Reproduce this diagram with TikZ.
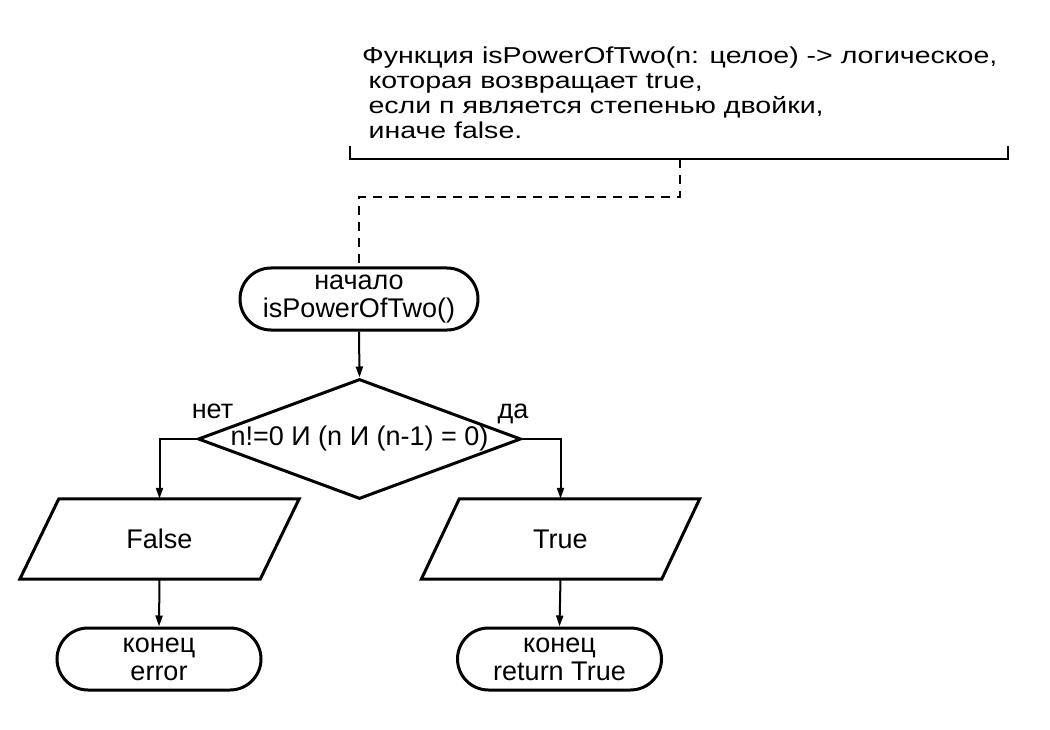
\documentclass[tikz,border=0pt]{standalone}
\usepackage{fontspec}
\setmainfont{Liberation Sans}
\newfontfamily\notefont[FakeStretch=1.24]{Liberation Sans}
\usetikzlibrary{arrows.meta,calc,shapes.geometric}
\begin{document}
\begin{tikzpicture}[x=1pt,y=-1pt,
  every node/.style={font=\fontsize{27}{28}\selectfont},
  term/.style={draw,line width=3pt,rounded corners=31pt,minimum height=62pt,align=center,inner sep=0pt},
  decide/.style={draw,line width=3pt,shape=diamond,aspect=2.7,minimum width=323pt,minimum height=120pt,inner sep=0pt},
  io/.style={minimum width=240pt,minimum height=80pt,inner sep=0pt},
  iofr/.style={line width=3pt,line join=miter},
  flow/.style={line width=2pt,-{Triangle[length=11pt,width=7pt]}},
  lbl/.style={anchor=base,inner sep=0pt},
  note/.style={font=\notefont\fontsize{23}{25}\selectfont,align=left,anchor=north west,inner sep=0pt},
  link/.style={line width=2pt,dash pattern=on 9pt off 7pt}
]
\useasboundingbox (0,0) rectangle (1050,730);

% comment
\node[note] (cm) at (362,47) {Функция isPowerOfTwo(n: целое) -> логическое,\\
\hspace*{0.278em}которая возвращает true,\\
\hspace*{0.278em}если п является степенью двойки,\\
\hspace*{0.278em}иначе false.};
\coordinate (bl) at (350,146);
\coordinate (br) at (1008,146);
\coordinate (bm) at (680,159);
\draw[line width=2pt] (bl) -- (bl |- bm) -- (br |- bm) -- (br);

% nodes
\node[term,minimum width=238pt] (start) at (359,299) {начало\\isPowerOfTwo()};
\node[decide] (dec) at (359.5,439) {\makebox[0pt]{n!=0 И (n И (n-1) = 0)}};
\node[io] (F) at (159.5,539) {False};
\node[io] (T) at (560.5,539) {True};
\node[term,minimum width=204pt] (E1) at (159,659) {конец\\error};
\node[term,minimum width=204pt] (E2) at (559.5,659) {конец\\return True};

% parallelograms
\draw[iofr] ($(F.north west)+(19.5,0)$) -- ($(F.north east)+(19.5,0)$) -- ($(F.south east)-(19.5,0)$) -- ($(F.south west)-(19.5,0)$) -- cycle;
\draw[iofr] ($(T.north west)+(19,0)$) -- ($(T.north east)+(19,0)$) -- ($(T.south east)-(19,0)$) -- ($(T.south west)-(19,0)$) -- cycle;

% labels
\node[lbl] (no) at (212.5,418) {нет};
\node[lbl] (yes) at (513,418) {да};

% connectors
\coordinate (dk) at (680,197);
\draw[link] (bm) -- (dk) -| (start.north);
\draw[flow] (start.south) -- (dec.north);
\draw[flow] (dec.west) -| (F.north);
\draw[flow] (dec.east) -| (T.north);
\draw[flow] (F.south) -- (E1.north);
\draw[flow] (T.south) -- (E2.north);
\end{tikzpicture}
\end{document}
